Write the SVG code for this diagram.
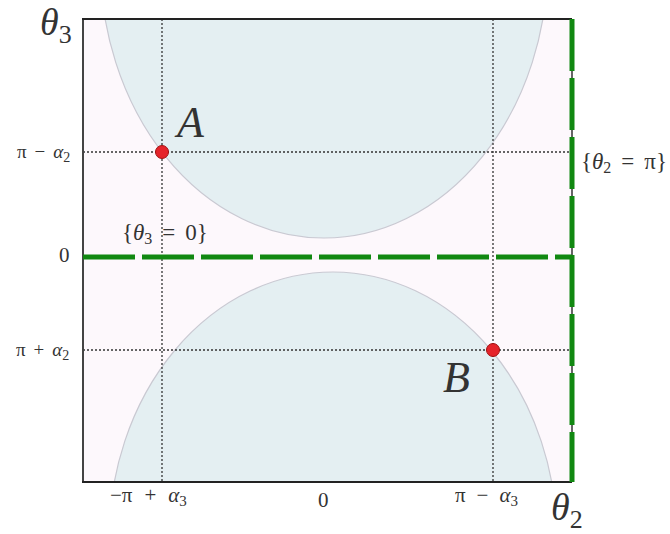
<svg xmlns="http://www.w3.org/2000/svg" width="670" height="534" viewBox="0 0 670 534">
<defs>
<clipPath id="plot"><rect x="83" y="19" width="489" height="463"/></clipPath>
</defs>
<style>
.t{font-family:"Liberation Serif","DejaVu Serif",serif;fill:#333}
.i{font-style:italic}
.dot{stroke:#333;stroke-width:1.3;stroke-dasharray:2 2;fill:none}
.g{stroke:#118811;stroke-width:5;fill:none;stroke-dasharray:52 7}
.pt{fill:#e5232a;stroke:#a01010;stroke-width:1}
.disc{fill:#e4eff2;stroke:#c9c9d2;stroke-width:1.2}
</style>
<rect width="670" height="534" fill="#ffffff"/>
<g id="plot-area">
<rect x="83" y="19" width="489" height="463" fill="#fdf8fc"/>
<g clip-path="url(#plot)">
<ellipse id="upper-disc" class="disc" cx="324" cy="-40" rx="224" ry="278"/>
<ellipse id="lower-disc" class="disc" cx="333" cy="540" rx="224" ry="268"/>
</g>
</g>
<g id="connectors">
<line class="dot" x1="162" y1="19" x2="162" y2="482"/>
<line class="dot" x1="493" y1="19" x2="493" y2="482"/>
<line class="dot" x1="83" y1="152" x2="572" y2="152"/>
<line class="dot" x1="83" y1="350" x2="572" y2="350"/>
<line x1="83" y1="19" x2="83" y2="482" stroke="#444" stroke-width="2"/>
<line x1="82" y1="19" x2="572" y2="19" stroke="#222" stroke-width="2"/>
<line x1="82" y1="482" x2="572" y2="482" stroke="#222" stroke-width="2"/>
<line x1="572" y1="19" x2="572" y2="482" stroke="#333" stroke-width="1.5"/>
<line id="theta3-zero" class="g" x1="83" y1="257" x2="572" y2="257"/>
<line id="theta2-pi" class="g" x1="572" y1="19" x2="572" y2="482"/>
</g>
<g id="point-A">
<circle class="pt" cx="162" cy="152" r="6.5"/>
<text class="t i" x="177" y="137" font-size="44">A</text>
</g>
<g id="point-B">
<circle class="pt" cx="493" cy="350" r="6.5"/>
<text class="t i" x="443" y="392" font-size="44">B</text>
</g>
<g id="labels">
<text class="t" x="40" y="35" font-size="38"><tspan class="i">θ</tspan><tspan font-size="26" dy="8">3</tspan></text>
<text class="t" x="551" y="520" font-size="38"><tspan class="i">θ</tspan><tspan font-size="26" dy="8">2</tspan></text>
<text class="t" x="17" y="158" font-size="19">π<tspan dx="8">−</tspan><tspan class="i" dx="8">α</tspan><tspan font-size="14" dy="4">2</tspan></text>
<text class="t" x="16" y="356" font-size="19">π<tspan dx="8">+</tspan><tspan class="i" dx="8">α</tspan><tspan font-size="14" dy="4">2</tspan></text>
<text class="t" x="59" y="262" font-size="21">0</text>
<text class="t" x="122" y="240" font-size="23">{<tspan class="i">θ</tspan><tspan font-size="16" dy="4">3</tspan><tspan dy="-4" dx="10">=</tspan><tspan dx="10">0}</tspan></text>
<text class="t" x="581" y="169" font-size="23">{<tspan class="i">θ</tspan><tspan font-size="16" dy="4">2</tspan><tspan dy="-4" dx="10">=</tspan><tspan dx="10">π}</tspan></text>
<text class="t" x="110" y="502" font-size="21">−π<tspan dx="12">+</tspan><tspan class="i" dx="12">α</tspan><tspan font-size="15" dy="4">3</tspan></text>
<text class="t" x="318" y="507" font-size="21">0</text>
<text class="t" x="455" y="502" font-size="21">π<tspan dx="11">−</tspan><tspan class="i" dx="11">α</tspan><tspan font-size="15" dy="4">3</tspan></text>
</g>
</svg>
